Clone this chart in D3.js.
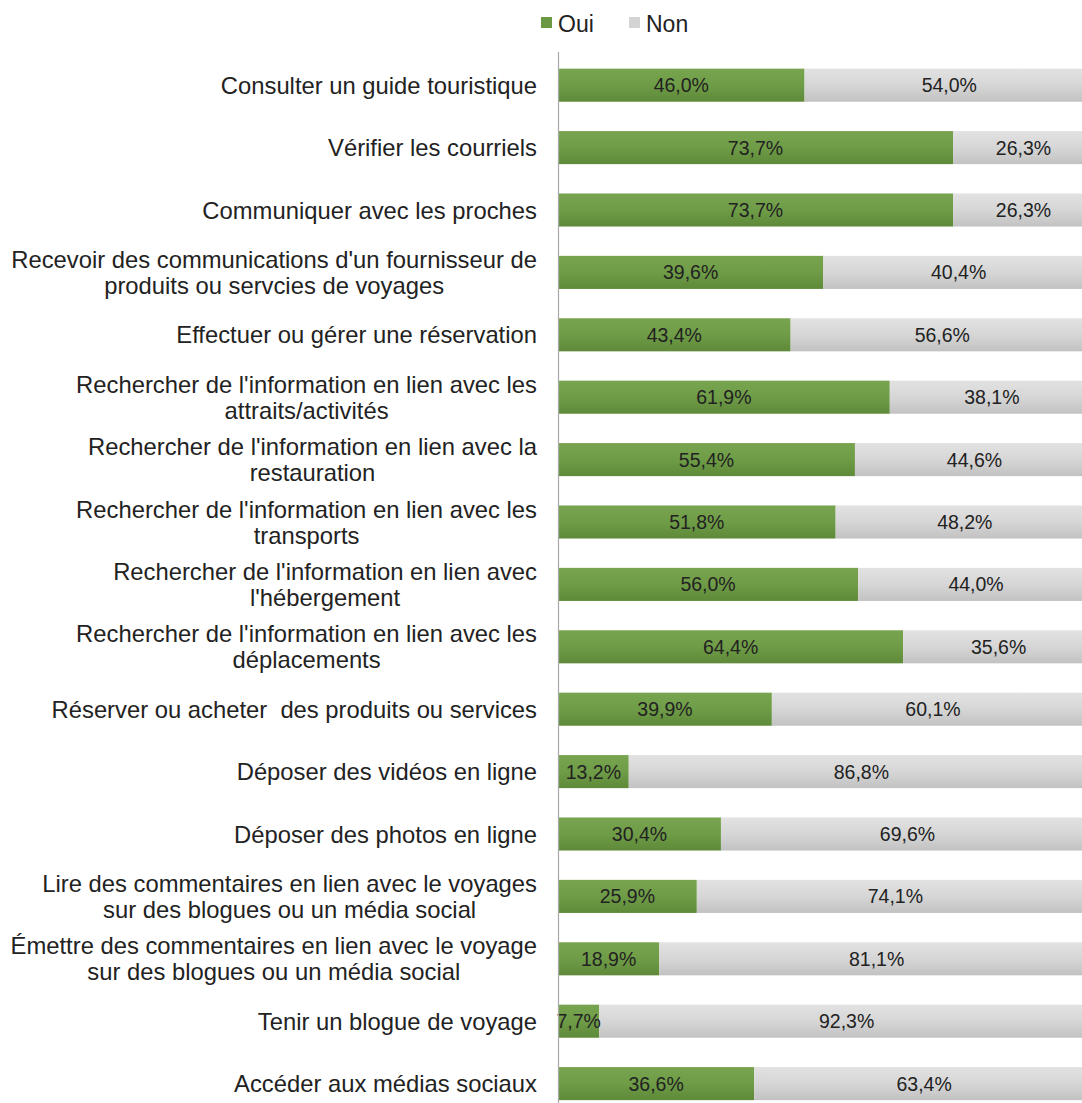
<!DOCTYPE html>
<html>
<head>
<meta charset="utf-8">
<script src="https://cdn.jsdelivr.net/npm/d3@7"></script>
<style>
  body { margin: 0; background: #fff; }
  svg { display: block; font-family: "Liberation Sans", Arial, sans-serif; }
  text { white-space: pre; }
</style>
</head>
<body>
<script>
// chart size
var svgWidth = 1082;
var svgHeight = 1103;

// data
var categories = [
  "Consulter un guide touristique",
  "Vérifier les courriels",
  "Communiquer avec les proches",
  "Recevoir des communications d'un fournisseur de|produits ou servcies de voyages",
  "Effectuer ou gérer une réservation",
  "Rechercher de l'information en lien avec les|attraits/activités",
  "Rechercher de l'information en lien avec la|restauration",
  "Rechercher de l'information en lien avec les|transports",
  "Rechercher de l'information en lien avec|l'hébergement",
  "Rechercher de l'information en lien avec les|déplacements",
  "Réserver ou acheter  des produits ou services",
  "Déposer des vidéos en ligne",
  "Déposer des photos en ligne",
  "Lire des commentaires en lien avec le voyages|sur des blogues ou un média social",
  "Émettre des commentaires en lien avec le voyage|sur des blogues ou un média social",
  "Tenir un blogue de voyage",
  "Accéder aux médias sociaux"
];
var oui = [46.0, 73.7, 73.7, 39.6, 43.4, 61.9, 55.4, 51.8, 56.0, 64.4, 39.9, 13.2, 30.4, 25.9, 18.9, 7.7, 36.6];
var non = [54.0, 26.3, 26.3, 40.4, 56.6, 38.1, 44.6, 48.2, 44.0, 35.6, 60.1, 86.8, 69.6, 74.1, 81.1, 92.3, 63.4];
var seriesNames = ["Oui", "Non"];

var rows = categories.map(function (c, i) {
  return { cat: c, Oui: oui[i], Non: non[i] };
});

var svg = d3.select("body").append("svg")
  .attr("width", svgWidth)
  .attr("height", svgHeight);

// gradients
var defs = svg.append("defs");
function grad(id, top, mid, bottom) {
  var g = defs.append("linearGradient").attr("id", id)
    .attr("x1", 0).attr("y1", 0).attr("x2", 0).attr("y2", 1);
  g.append("stop").attr("offset", "0%").attr("stop-color", top);
  g.append("stop").attr("offset", "50%").attr("stop-color", mid);
  g.append("stop").attr("offset", "100%").attr("stop-color", bottom);
}
grad("gOui", "#78a44f", "#6f9c47", "#5e8a39");
grad("gNon", "#e2e2e2", "#d6d6d6", "#c2c2c2");
var fills = { Oui: "url(#gOui)", Non: "url(#gNon)" };
var swatch = { Oui: "#6a9843", Non: "#d4d4d4" };

// scales (plot runs past the right edge, like the original)
var x = d3.scaleLinear().domain([0, 1]).range([558, 1094]);
var y = d3.scaleBand().domain(categories).range([54, 54 + 17 * 62.4]).paddingInner(0.47).paddingOuter(0.235);

var stack = d3.stack().keys(seriesNames).offset(d3.stackOffsetExpand);
var stacked = stack(rows);

var layers = svg.append("g").selectAll("g")
  .data(stacked)
  .enter().append("g")
  .attr("fill", function (d) { return fills[d.key]; });

layers.selectAll("rect")
  .data(function (d) { return d; })
  .enter().append("rect")
  .attr("x", function (d) { return x(d[0]); })
  .attr("y", function (d) { return y(d.data.cat); })
  .attr("width", function (d) { return x(d[1]) - x(d[0]); })
  .attr("height", y.bandwidth());

// value labels
stacked.forEach(function (layer) {
  svg.append("g").selectAll("text")
    .data(layer)
    .enter().append("text")
    .attr("x", function (d) { return (x(d[0]) + x(d[1])) / 2; })
    .attr("y", function (d) { return y(d.data.cat) + y.bandwidth() / 2; })
    .attr("dy", "0.36em")
    .attr("text-anchor", "middle")
    .attr("font-size", 19.5)
    .attr("fill", "#222")
    .text(function (d) { return d.data[layer.key].toFixed(1).replace(".", ",") + "%"; });
});

// category axis line
svg.append("line")
  .attr("x1", 558.5).attr("x2", 558.5)
  .attr("y1", 52).attr("y2", svgHeight)
  .attr("stroke", "#a8a8a8").attr("stroke-width", 1.2);

// category labels, multi-line ones centred on each other
var labelRight = 537;
var labels = svg.append("g");
categories.forEach(function (c) {
  var lines = c.split("|");
  var cy = y(c) + y.bandwidth() / 2;
  var lh = 26;
  var g = labels.append("g");
  var texts = lines.map(function (l, j) {
    return g.append("text")
      .attr("y", cy + (j - (lines.length - 1) / 2) * lh)
      .attr("dy", "0.36em")
      .attr("font-size", 23.8)
      .attr("fill", "#222")
      .attr("text-anchor", "middle")
      .text(l);
  });
  var maxW = d3.max(texts, function (t) { return t.node().getComputedTextLength(); });
  texts.forEach(function (t) { t.attr("x", labelRight - maxW / 2); });
});

// legend
var legend = svg.append("g");
var legendX = [541, 629];
seriesNames.forEach(function (s, i) {
  legend.append("rect")
    .attr("x", legendX[i]).attr("y", 17)
    .attr("width", 11).attr("height", 11)
    .attr("fill", swatch[s]);
  legend.append("text")
    .attr("x", legendX[i] + 17).attr("y", 24)
    .attr("dy", "0.36em")
    .attr("font-size", 23)
    .attr("fill", "#222")
    .text(s);
});
</script>
</body>
</html>
